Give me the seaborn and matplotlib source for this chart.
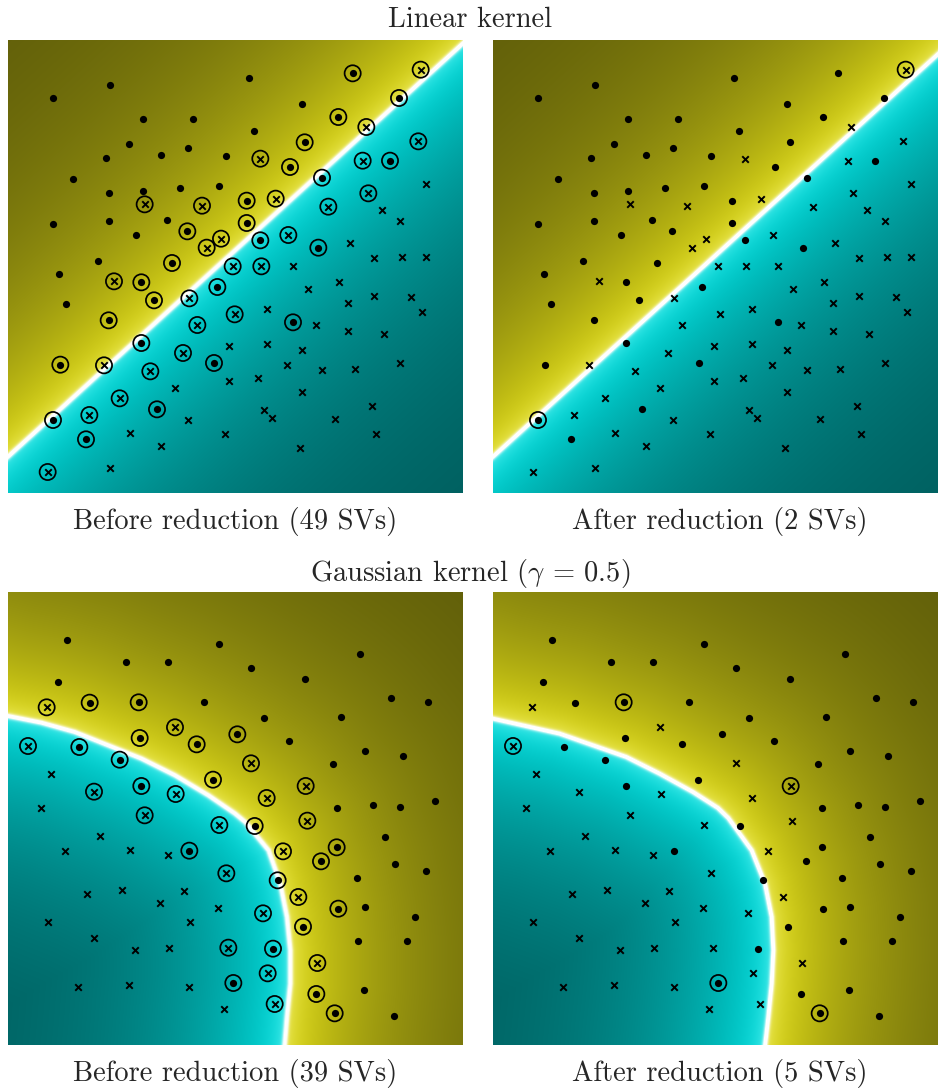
import numpy as np
import pandas as pd
import matplotlib
matplotlib.use("Agg")
import matplotlib.pyplot as plt
import seaborn as sns
from matplotlib.path import Path

sns.set_theme(style="white")
plt.rcParams['font.family'] = ['cmr10', 'DejaVu Serif']
plt.rcParams['mathtext.fontset'] = 'cm'
plt.rcParams['axes.formatter.use_mathtext'] = True
plt.rcParams['axes.unicode_minus'] = False

# ---------------- data (panel units: x 0..1362 right, y 0..1359 down) ----------------
W, H = 1362, 1359

# Linear-kernel data set
lin_x = [135, 305, 405, 555, 364, 293, 460, 541, 655, 196, 302, 405, 517, 634, 136, 302, 477, 383, 538, 269, 492,
         410, 582, 639, 596,
         1238, 724, 1034, 882, 991, 1173, 737, 890, 846, 1146, 942, 716, 716, 757, 931,
         1075, 1231, 757, 1064, 1253, 803, 1081, 961, 1121, 1176, 841, 1026, 1097, 1181, 1253, 674, 760, 854,
         152, 400, 174, 438, 302, 400, 628, 157, 135, 447, 234, 618,
         318, 544, 568, 525, 288, 427, 501, 335, 244, 539, 365, 460, 650, 119, 305,
         994, 901, 1097, 1209, 1021, 1241, 680, 778, 923, 1021, 1127, 855, 776, 662, 882, 838, 942, 1042, 1176,
         751, 664, 882, 1092, 767, 792, 980, 1105, 876]
lin_y = [174, 135, 237, 237, 313, 354, 346, 324, 348, 416, 460, 452, 443, 438, 552, 544, 541, 585, 574, 664, 669,
         493, 497, 596, 623,
         89, 114, 100, 193, 231, 174, 274, 307, 381, 362, 413, 482, 549, 601, 623,
         261, 304, 356, 362, 432, 476, 460, 500, 511, 542, 585, 609, 653, 651, 651, 679, 679, 679,
         703, 727, 792, 781, 841, 909, 741, 974, 1140, 1108, 1198, 969,
         724, 775, 855, 939, 976, 994, 1043, 1075, 1125, 1140, 1178, 1217, 1182, 1296, 1284,
         726, 748, 767, 770, 789, 817, 823, 806, 855, 874, 882, 847, 912, 917, 931, 974, 991, 988, 969,
         1013, 1024, 1056, 1097, 1110, 1133, 1138, 1182, 1225]
lin_cls = (['o'] * 21 + ['x'] * 4
           + ['x'] + ['o'] * 14 + ['x'] * 18
           + ['o'] * 12 + ['x'] * 15
           + ['x'] * 11 + ['o'] + ['x'] * 16)
lin_sv_before = ([0] * 18 + [1, 0, 1, 1, 1, 1, 1]
                 + [1, 0, 1, 0, 1, 1, 0, 1, 1, 1, 1, 1, 1, 1, 1]
                 + [1, 1, 1, 1, 0, 1, 1, 1, 0, 0, 1, 0, 0, 0, 0, 1, 1, 0]
                 + [0, 1, 0, 1, 1, 1, 1, 1, 1, 1, 1, 1]
                 + [1, 1, 1, 1, 1, 1, 0, 1, 1, 0, 0, 0, 0, 1, 0]
                 + [0] * 6 + [1] + [0] * 4 + [1] + [0] * 16)
lin_sv_after = [25, 66]

# Gaussian-kernel data set
gau_x = [176, 634, 353, 479, 149, 245, 392, 588, 395, 214, 566, 335, 400, 615, 116, 501, 60, 130, 258, 503, 100, 410,
         1056, 729, 890, 1148, 1260, 767, 999, 688, 844, 1070, 1186, 975, 988, 1094, 1176, 1280, 729, 893, 776, 898,
         634, 275, 171, 367, 479, 655, 236, 342, 528, 457, 631, 121, 547, 258, 380, 484, 661, 209, 362, 543, 648, 544,
         740, 1130, 986, 939, 1162, 1255, 809, 1048, 991, 1072, 1220, 885, 1051, 1198, 795, 676, 925, 1067, 980, 1157,
         825, 871, 765, 928, 779, 800]
gau_y = [144, 157, 209, 209, 269, 332, 331, 329, 438, 465, 457, 503, 582, 563, 346, 406, 462, 547, 599, 606, 648, 670,
         187, 228, 261, 318, 329, 378, 375, 427, 446, 476, 492, 517, 648, 639, 645, 626, 514, 582, 618, 686,
         699, 732, 778, 773, 790, 844, 907, 895, 898, 934, 949, 991, 989, 1037, 1073, 1067, 1067, 1185, 1179, 1185,
         1250, 776,
         702, 735, 766, 808, 817, 836, 865, 857, 950, 945, 974, 1004, 1046, 1048, 1070, 1173, 1206, 1195, 1264, 1272,
         778, 915, 964, 1113, 1144, 1236]
gau_cls = (['o'] * 14 + ['x'] * 8
           + ['o'] * 16 + ['x'] * 4
           + ['x'] * 21 + ['o']
           + ['o'] * 20 + ['x'] * 6)
gau_sv_before = ([0, 0, 0, 0, 0, 1, 1, 0, 1, 1, 1, 1, 1, 1, 1, 1, 1, 0, 1, 1, 0, 1]
                 + [0] * 7 + [1] + [0] * 8 + [1, 1, 1, 1]
                 + [1, 0, 0, 0, 0, 1, 0, 0, 0, 0, 0, 0, 0, 0, 0, 0, 1, 0, 0, 0, 0, 1]
                 + [1, 0, 1, 1, 0, 0, 1, 0, 1, 0, 0, 1, 0, 0, 1, 1, 1, 0, 1, 0]
                 + [1] * 6)
gau_sv_after = [6, 16, 39, 79, 82]

# decision boundaries (read from the shading)
lin_before_line = [(0, 1250), (1362, 10)]
lin_after_line = [(0, 1250), (1362, 18)]
gau_before_bx = [-60, 0, 100, 200, 300, 400, 500, 600, 680, 710, 780, 815, 835, 845, 845, 835, 828, 822]
gau_before_by = [355, 372, 392, 420, 460, 500, 550, 610, 665, 690, 775, 875, 975, 1075, 1175, 1275, 1362, 1420]
gau_after_bx = [-60, 0, 200, 400, 500, 600, 675, 706, 776, 816, 836, 841, 836, 826, 816, 810]
gau_after_by = [360, 380, 425, 495, 545, 600, 648, 678, 775, 875, 975, 1075, 1175, 1275, 1362, 1420]

# ---------------- background shading ----------------
NX, NY = 454, 453
gx = (np.arange(NX) + 0.5) * W / NX
gy = (np.arange(NY) + 0.5) * H / NY
GX, GY = np.meshgrid(gx, gy)


def dist_line(p0, p1):
    (x0, y0), (x1, y1) = p0, p1
    dx, dy = x1 - x0, y1 - y0
    L = np.hypot(dx, dy)
    cross = dx * (GY - y0) - dy * (GX - x0)
    return -cross / L   # positive on the upper-left (dot) side


def dist_curve(bx, by):
    bx = np.asarray(bx, float)
    by = np.asarray(by, float)
    best = np.full(GX.shape, np.inf)
    for i in range(len(bx) - 1):
        ax_, ay_ = bx[i], by[i]
        vx, vy = bx[i + 1] - ax_, by[i + 1] - ay_
        t = ((GX - ax_) * vx + (GY - ay_) * vy) / (vx * vx + vy * vy)
        t = np.clip(t, 0, 1)
        d = np.hypot(GX - (ax_ + t * vx), GY - (ay_ + t * vy))
        best = np.minimum(best, d)
    poly = np.column_stack([np.r_[bx, -200], np.r_[by, 1500]])
    inside = Path(poly).contains_points(np.column_stack([GX.ravel(), GY.ravel()])).reshape(GX.shape)
    return np.where(inside, -best, best)


def shade(d):
    a = np.abs(d)
    v = 0.33 + 0.55 * np.exp(-a / 420.0)
    w = np.clip(np.exp(-(a / 8.0) ** 2) + 0.3 * np.exp(-a / 28.0), 0, 1)
    yellow = np.array([1.0, 0.98, 0.10])
    cyan = np.array([0.0, 1.0, 1.0])
    base = np.where((d > 0)[..., None], yellow, cyan)
    col = base * v[..., None]
    col = col * (1 - w[..., None]) + w[..., None]
    return np.clip(col, 0, 1)


# ---------------- figure ----------------
FW, FH = 938, 1090
fig = plt.figure(figsize=(FW / 100, FH / 100), dpi=100)


def make_ax(left, top):
    return fig.add_axes([left / FW, 1 - (top + 453) / FH, 454 / FW, 453 / FH])


def draw(ax, bg, xs, ys, cls, sv_idx):
    ax.imshow(bg, extent=[0, W, H, 0], origin='upper', interpolation='bilinear', aspect='auto')
    df = pd.DataFrame({'x': xs, 'y': ys, 'cls': cls})
    dots = df[df.cls == 'o']
    crosses = df[df.cls == 'x']
    sv = df.iloc[sv_idx]
    sns.scatterplot(data=dots, x='x', y='y', ax=ax, marker='o', s=27, color='black',
                    linewidth=0, legend=False, zorder=3)
    sns.scatterplot(data=crosses, x='x', y='y', ax=ax, marker='x', s=22, color='black',
                    linewidth=1.4, legend=False, zorder=3)
    sns.scatterplot(data=sv, x='x', y='y', ax=ax, marker='o', s=135, facecolors='none',
                    edgecolors='black', linewidth=1.25, legend=False, zorder=4)
    ax.set_xlim(0, W)
    ax.set_ylim(H, 0)
    ax.set_axis_off()


lin_before_idx = [i for i, f in enumerate(lin_sv_before) if f]
gau_before_idx = [i for i, f in enumerate(gau_sv_before) if f]

ax1 = make_ax(8, 40)
draw(ax1, shade(dist_line(*lin_before_line)), lin_x, lin_y, lin_cls, lin_before_idx)
ax2 = make_ax(493, 40)
draw(ax2, shade(dist_line(*lin_after_line)), lin_x, lin_y, lin_cls, lin_sv_after)
ax3 = make_ax(8, 592)
draw(ax3, shade(dist_curve(gau_before_bx, gau_before_by)), gau_x, gau_y, gau_cls, gau_before_idx)
ax4 = make_ax(493, 592)
draw(ax4, shade(dist_curve(gau_after_bx, gau_after_by)), gau_x, gau_y, gau_cls, gau_sv_after)

fs = 20.5
fig.text(470 / FW, 1 - 27 / FH, "Linear kernel", ha='center', va='baseline', fontsize=fs)
fig.text(235 / FW, 1 - 529 / FH, f"Before reduction ({len(lin_before_idx)} SVs)", ha='center', va='baseline', fontsize=fs)
fig.text(720 / FW, 1 - 529 / FH, f"After reduction ({len(lin_sv_after)} SVs)", ha='center', va='baseline', fontsize=fs)
fig.text(470 / FW, 1 - 581 / FH, r"Gaussian kernel ($\gamma$ = 0.5)", ha='center', va='baseline', fontsize=fs)
fig.text(235 / FW, 1 - 1081 / FH, f"Before reduction ({len(gau_before_idx)} SVs)", ha='center', va='baseline', fontsize=fs)
fig.text(720 / FW, 1 - 1081 / FH, f"After reduction ({len(gau_sv_after)} SVs)", ha='center', va='baseline', fontsize=fs)

fig.savefig("out.png", dpi=100)
